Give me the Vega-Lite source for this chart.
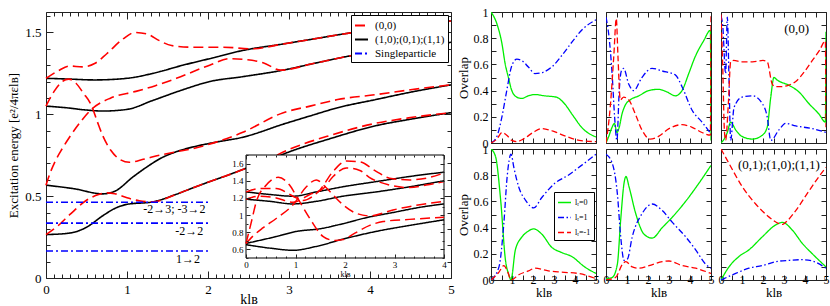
{
"$schema":"https://vega.github.io/schema/vega-lite/v6.json",
"padding":{"left":7,"top":5,"right":2,"bottom":2},
"background":"white",
"config":{
 "font":"Liberation Serif",
 "view":{"stroke":"#222","strokeWidth":1},
 "axis":{"grid":false,"domain":false,"labelFont":"Liberation Serif","titleFont":"Liberation Serif","labelColor":"black","titleColor":"black","titleFontWeight":"normal","tickColor":"#222","labelFlush":false,"labelOverlap":false},
 "legend":{"orient":"top-right","offset":3,"strokeColor":"black","fillColor":"white","padding":3,"labelFontSize":11,"labelFont":"Liberation Serif","labelColor":"black","symbolType":"stroke","symbolSize":169,"symbolStrokeWidth":2,"rowPadding":1,"labelOffset":6,"cornerRadius":0},
 "text":{"font":"Liberation Serif","color":"black"}
},
"datasets":{
 "mb":[
  {"id":"B1","k":0,"E":1.22},{"id":"B1","k":0.3,"E":1.215},{"id":"B1","k":0.6,"E":1.21},{"id":"B1","k":1.0,"E":1.22},{"id":"B1","k":1.32,"E":1.25},{"id":"B1","k":1.69,"E":1.3},{"id":"B1","k":2.02,"E":1.34},{"id":"B1","k":2.43,"E":1.39},{"id":"B1","k":2.93,"E":1.43},{"id":"B1","k":3.3,"E":1.46},{"id":"B1","k":3.79,"E":1.5},{"id":"B1","k":4.4,"E":1.54},{"id":"B1","k":5,"E":1.57},
  {"id":"B2","k":0,"E":1.05},{"id":"B2","k":0.25,"E":1.04},{"id":"B2","k":0.5,"E":1.026},{"id":"B2","k":0.7,"E":1.02},{"id":"B2","k":1.0,"E":1.03},{"id":"B2","k":1.32,"E":1.085},{"id":"B2","k":1.69,"E":1.15},{"id":"B2","k":2.02,"E":1.2},{"id":"B2","k":2.43,"E":1.23},{"id":"B2","k":2.93,"E":1.27},{"id":"B2","k":3.3,"E":1.31},{"id":"B2","k":3.79,"E":1.36},{"id":"B2","k":4.4,"E":1.4},{"id":"B2","k":5,"E":1.44},
  {"id":"B3","k":0,"E":0.567},{"id":"B3","k":0.35,"E":0.545},{"id":"B3","k":0.7,"E":0.514},{"id":"B3","k":0.85,"E":0.53},{"id":"B3","k":1.07,"E":0.616},{"id":"B3","k":1.25,"E":0.68},{"id":"B3","k":1.4,"E":0.727},{"id":"B3","k":1.6,"E":0.77},{"id":"B3","k":1.81,"E":0.8},{"id":"B3","k":2.1,"E":0.83},{"id":"B3","k":2.43,"E":0.86},{"id":"B3","k":2.93,"E":0.94},{"id":"B3","k":3.26,"E":0.99},{"id":"B3","k":3.6,"E":1.04},{"id":"B3","k":4.07,"E":1.09},{"id":"B3","k":4.5,"E":1.135},{"id":"B3","k":5,"E":1.18},
  {"id":"B4","k":0,"E":0.265},{"id":"B4","k":0.3,"E":0.275},{"id":"B4","k":0.5,"E":0.31},{"id":"B4","k":0.7,"E":0.38},{"id":"B4","k":0.85,"E":0.425},{"id":"B4","k":1.0,"E":0.45},{"id":"B4","k":1.32,"E":0.465},{"id":"B4","k":1.6,"E":0.51},{"id":"B4","k":1.81,"E":0.55},{"id":"B4","k":2.0,"E":0.585},{"id":"B4","k":2.2,"E":0.62},{"id":"B4","k":2.47,"E":0.67},{"id":"B4","k":2.7,"E":0.71},{"id":"B4","k":3.0,"E":0.77},{"id":"B4","k":3.5,"E":0.85},{"id":"B4","k":4.07,"E":0.93},{"id":"B4","k":4.5,"E":0.97},{"id":"B4","k":5,"E":1.01}
 ],
 "mr":[
  {"id":"R1","k":0,"E":1.22},{"id":"R1","k":0.15,"E":1.265},{"id":"R1","k":0.29,"E":1.295},{"id":"R1","k":0.45,"E":1.29},{"id":"R1","k":0.6,"E":1.31},{"id":"R1","k":0.75,"E":1.37},{"id":"R1","k":0.95,"E":1.46},{"id":"R1","k":1.1,"E":1.5},{"id":"R1","k":1.25,"E":1.49},{"id":"R1","k":1.4,"E":1.45},{"id":"R1","k":1.55,"E":1.42},{"id":"R1","k":1.8,"E":1.41},{"id":"R1","k":2.19,"E":1.41},{"id":"R1","k":2.54,"E":1.4},{"id":"R1","k":2.93,"E":1.43},{"id":"R1","k":3.3,"E":1.46},{"id":"R1","k":3.79,"E":1.5},{"id":"R1","k":4.4,"E":1.54},{"id":"R1","k":5,"E":1.57},
  {"id":"R2","k":0,"E":1.05},{"id":"R2","k":0.1,"E":1.14},{"id":"R2","k":0.2,"E":1.2},{"id":"R2","k":0.28,"E":1.215},{"id":"R2","k":0.37,"E":1.19},{"id":"R2","k":0.46,"E":1.13},{"id":"R2","k":0.56,"E":1.055},{"id":"R2","k":0.63,"E":0.96},{"id":"R2","k":0.7,"E":0.87},{"id":"R2","k":0.8,"E":0.78},{"id":"R2","k":0.91,"E":0.725},{"id":"R2","k":1.03,"E":0.707},{"id":"R2","k":1.2,"E":0.725},{"id":"R2","k":1.4,"E":0.75},{"id":"R2","k":1.6,"E":0.77},{"id":"R2","k":1.81,"E":0.79},{"id":"R2","k":2.1,"E":0.83},{"id":"R2","k":2.43,"E":0.89},{"id":"R2","k":2.93,"E":1.01},{"id":"R2","k":3.26,"E":1.05},{"id":"R2","k":3.6,"E":1.09},{"id":"R2","k":4.07,"E":1.12},{"id":"R2","k":4.5,"E":1.15},{"id":"R2","k":5,"E":1.18},
  {"id":"R3","k":0,"E":0.567},{"id":"R3","k":0.05,"E":0.64},{"id":"R3","k":0.12,"E":0.72},{"id":"R3","k":0.2,"E":0.79},{"id":"R3","k":0.29,"E":0.86},{"id":"R3","k":0.42,"E":0.95},{"id":"R3","k":0.56,"E":1.03},{"id":"R3","k":0.8,"E":1.1},{"id":"R3","k":1.11,"E":1.14},{"id":"R3","k":1.35,"E":1.175},{"id":"R3","k":1.61,"E":1.22},{"id":"R3","k":2.02,"E":1.3},{"id":"R3","k":2.27,"E":1.34},{"id":"R3","k":2.45,"E":1.335},{"id":"R3","k":2.68,"E":1.315},{"id":"R3","k":2.9,"E":1.27},{"id":"R3","k":3.3,"E":1.31},{"id":"R3","k":3.79,"E":1.36},{"id":"R3","k":4.4,"E":1.4},{"id":"R3","k":5,"E":1.44},
  {"id":"R4","k":0,"E":0.265},{"id":"R4","k":0.15,"E":0.32},{"id":"R4","k":0.3,"E":0.39},{"id":"R4","k":0.5,"E":0.475},{"id":"R4","k":0.65,"E":0.51},{"id":"R4","k":0.75,"E":0.52},{"id":"R4","k":0.85,"E":0.515},{"id":"R4","k":1.0,"E":0.49},{"id":"R4","k":1.15,"E":0.472},{"id":"R4","k":1.32,"E":0.465},{"id":"R4","k":1.6,"E":0.51},{"id":"R4","k":1.81,"E":0.55},{"id":"R4","k":2.0,"E":0.585},{"id":"R4","k":2.2,"E":0.62},{"id":"R4","k":2.47,"E":0.67},{"id":"R4","k":2.7,"E":0.715},{"id":"R4","k":3.0,"E":0.785},{"id":"R4","k":3.5,"E":0.87},{"id":"R4","k":4.07,"E":0.945},{"id":"R4","k":4.5,"E":0.98},{"id":"R4","k":5,"E":1.01}
 ],
 "ms":[
  {"id":"S1","k":0,"E":0.463},{"id":"S1","k":2,"E":0.463},
  {"id":"S2","k":0,"E":0.335},{"id":"S2","k":2,"E":0.335},
  {"id":"S3","k":0,"E":0.165},{"id":"S3","k":2,"E":0.165}
 ],
 "ib":[
  {"id":"I1","k":0,"E":1.27},{"id":"I1","k":0.48,"E":1.24},{"id":"I1","k":0.95,"E":1.22},{"id":"I1","k":1.42,"E":1.27},{"id":"I1","k":1.96,"E":1.33},{"id":"I1","k":2.63,"E":1.39},{"id":"I1","k":3.31,"E":1.45},{"id":"I1","k":4,"E":1.5},
  {"id":"I2","k":0,"E":1.185},{"id":"I2","k":0.48,"E":1.16},{"id":"I2","k":0.95,"E":1.13},{"id":"I2","k":1.42,"E":1.16},{"id":"I2","k":1.96,"E":1.22},{"id":"I2","k":2.63,"E":1.27},{"id":"I2","k":3.31,"E":1.33},{"id":"I2","k":4,"E":1.4},
  {"id":"I3","k":0,"E":0.67},{"id":"I3","k":0.61,"E":0.75},{"id":"I3","k":1.02,"E":0.81},{"id":"I3","k":1.49,"E":0.84},{"id":"I3","k":1.96,"E":0.9},{"id":"I3","k":2.43,"E":0.97},{"id":"I3","k":2.97,"E":1.03},{"id":"I3","k":3.51,"E":1.09},{"id":"I3","k":4,"E":1.13},
  {"id":"I4","k":0,"E":0.655},{"id":"I4","k":0.48,"E":0.615},{"id":"I4","k":0.95,"E":0.59},{"id":"I4","k":1.42,"E":0.635},{"id":"I4","k":1.96,"E":0.72},{"id":"I4","k":2.63,"E":0.81},{"id":"I4","k":3.31,"E":0.88},{"id":"I4","k":4,"E":0.945}
 ],
 "ir":[
  {"id":"J1","k":0,"E":0.67},{"id":"J1","k":0.1,"E":0.9},{"id":"J1","k":0.21,"E":1.16},{"id":"J1","k":0.41,"E":1.35},{"id":"J1","k":0.65,"E":1.44},{"id":"J1","k":0.88,"E":1.35},{"id":"J1","k":1.02,"E":1.22},{"id":"J1","k":1.29,"E":0.96},{"id":"J1","k":1.56,"E":0.75},{"id":"J1","k":1.79,"E":0.705},{"id":"J1","k":1.96,"E":0.715},{"id":"J1","k":2.2,"E":0.79},{"id":"J1","k":2.5,"E":0.88},{"id":"J1","k":2.77,"E":0.925},{"id":"J1","k":3.3,"E":0.95},{"id":"J1","k":4,"E":0.975},
  {"id":"J2","k":0,"E":0.67},{"id":"J2","k":0.15,"E":0.76},{"id":"J2","k":0.34,"E":0.85},{"id":"J2","k":0.61,"E":0.96},{"id":"J2","k":0.95,"E":1.12},{"id":"J2","k":1.22,"E":1.33},{"id":"J2","k":1.42,"E":1.41},{"id":"J2","k":1.6,"E":1.33},{"id":"J2","k":1.8,"E":1.21},{"id":"J2","k":1.96,"E":1.12},{"id":"J2","k":2.23,"E":1.02},{"id":"J2","k":2.5,"E":0.99},{"id":"J2","k":2.97,"E":1.06},{"id":"J2","k":3.51,"E":1.12},{"id":"J2","k":4,"E":1.16},
  {"id":"J3","k":0,"E":1.27},{"id":"J3","k":0.28,"E":1.31},{"id":"J3","k":0.61,"E":1.31},{"id":"J3","k":0.95,"E":1.22},{"id":"J3","k":1.15,"E":1.17},{"id":"J3","k":1.35,"E":1.22},{"id":"J3","k":1.49,"E":1.29},{"id":"J3","k":1.76,"E":1.51},{"id":"J3","k":2.03,"E":1.63},{"id":"J3","k":2.3,"E":1.62},{"id":"J3","k":2.63,"E":1.51},{"id":"J3","k":2.9,"E":1.43},{"id":"J3","k":3.31,"E":1.41},{"id":"J3","k":3.64,"E":1.43},{"id":"J3","k":4,"E":1.49},
  {"id":"J4","k":0,"E":1.185},{"id":"J4","k":0.28,"E":1.22},{"id":"J4","k":0.61,"E":1.2},{"id":"J4","k":0.95,"E":1.15},{"id":"J4","k":1.29,"E":1.24},{"id":"J4","k":1.56,"E":1.31},{"id":"J4","k":1.76,"E":1.45},{"id":"J4","k":2.03,"E":1.55},{"id":"J4","k":2.3,"E":1.52},{"id":"J4","k":2.49,"E":1.44},{"id":"J4","k":2.9,"E":1.35},{"id":"J4","k":3.31,"E":1.32},{"id":"J4","k":3.64,"E":1.35},{"id":"J4","k":4,"E":1.39}
 ],
 "ov":[
  {"p":"a","c":"0","k":0,"v":1},{"p":"a","c":"0","k":0.28,"v":0.91},{"p":"a","c":"0","k":0.52,"v":0.76},{"p":"a","c":"0","k":0.68,"v":0.6},{"p":"a","c":"0","k":0.83,"v":0.5},{"p":"a","c":"0","k":0.99,"v":0.4},{"p":"a","c":"0","k":1.23,"v":0.35},{"p":"a","c":"0","k":1.46,"v":0.34},{"p":"a","c":"0","k":1.78,"v":0.36},{"p":"a","c":"0","k":2.09,"v":0.37},{"p":"a","c":"0","k":2.56,"v":0.36},{"p":"a","c":"0","k":3.11,"v":0.35},{"p":"a","c":"0","k":3.5,"v":0.3},{"p":"a","c":"0","k":3.9,"v":0.21},{"p":"a","c":"0","k":4.37,"v":0.11},{"p":"a","c":"0","k":4.69,"v":0.07},{"p":"a","c":"0","k":5,"v":0.046},
  {"p":"a","c":"1","k":0,"v":0},{"p":"a","c":"1","k":0.28,"v":0.05},{"p":"a","c":"1","k":0.52,"v":0.2},{"p":"a","c":"1","k":0.75,"v":0.4},{"p":"a","c":"1","k":0.99,"v":0.59},{"p":"a","c":"1","k":1.23,"v":0.64},{"p":"a","c":"1","k":1.46,"v":0.63},{"p":"a","c":"1","k":1.78,"v":0.58},{"p":"a","c":"1","k":2.09,"v":0.53},{"p":"a","c":"1","k":2.48,"v":0.54},{"p":"a","c":"1","k":2.96,"v":0.59},{"p":"a","c":"1","k":3.43,"v":0.68},{"p":"a","c":"1","k":3.9,"v":0.78},{"p":"a","c":"1","k":4.37,"v":0.87},{"p":"a","c":"1","k":5,"v":0.94},
  {"p":"a","c":"-1","k":0,"v":0},{"p":"a","c":"-1","k":0.28,"v":0.03},{"p":"a","c":"-1","k":0.52,"v":0.08},{"p":"a","c":"-1","k":0.75,"v":0.06},{"p":"a","c":"-1","k":0.99,"v":0.02},{"p":"a","c":"-1","k":1.23,"v":0.01},{"p":"a","c":"-1","k":1.54,"v":0.03},{"p":"a","c":"-1","k":2.0,"v":0.08},{"p":"a","c":"-1","k":2.4,"v":0.11},{"p":"a","c":"-1","k":2.96,"v":0.09},{"p":"a","c":"-1","k":3.58,"v":0.05},{"p":"a","c":"-1","k":4.2,"v":0.02},{"p":"a","c":"-1","k":5,"v":0.01},
  {"p":"b","c":"0","k":0,"v":0},{"p":"b","c":"0","k":0.13,"v":0.05},{"p":"b","c":"0","k":0.29,"v":0.12},{"p":"b","c":"0","k":0.4,"v":0.15},{"p":"b","c":"0","k":0.52,"v":0.08},{"p":"b","c":"0","k":0.63,"v":0.12},{"p":"b","c":"0","k":0.76,"v":0.22},{"p":"b","c":"0","k":0.92,"v":0.29},{"p":"b","c":"0","k":1.16,"v":0.33},{"p":"b","c":"0","k":1.56,"v":0.36},{"p":"b","c":"0","k":2.03,"v":0.4},{"p":"b","c":"0","k":2.5,"v":0.41},{"p":"b","c":"0","k":2.9,"v":0.39},{"p":"b","c":"0","k":3.3,"v":0.36},{"p":"b","c":"0","k":3.62,"v":0.4},{"p":"b","c":"0","k":3.94,"v":0.53},{"p":"b","c":"0","k":4.25,"v":0.66},{"p":"b","c":"0","k":4.65,"v":0.78},{"p":"b","c":"0","k":4.97,"v":0.86},{"p":"b","c":"0","k":5,"v":0.02},
  {"p":"b","c":"1","k":0,"v":0.96},{"p":"b","c":"1","k":0.13,"v":0.83},{"p":"b","c":"1","k":0.29,"v":0.53},{"p":"b","c":"1","k":0.41,"v":0.2},{"p":"b","c":"1","k":0.52,"v":0.02},{"p":"b","c":"1","k":0.63,"v":0.4},{"p":"b","c":"1","k":0.73,"v":0.55},{"p":"b","c":"1","k":0.84,"v":0.57},{"p":"b","c":"1","k":1.08,"v":0.45},{"p":"b","c":"1","k":1.32,"v":0.4},{"p":"b","c":"1","k":1.71,"v":0.5},{"p":"b","c":"1","k":2.19,"v":0.57},{"p":"b","c":"1","k":2.67,"v":0.55},{"p":"b","c":"1","k":3.3,"v":0.52},{"p":"b","c":"1","k":3.62,"v":0.43},{"p":"b","c":"1","k":4.1,"v":0.25},{"p":"b","c":"1","k":4.57,"v":0.16},{"p":"b","c":"1","k":5,"v":0.07},
  {"p":"b","c":"-1","k":0,"v":0},{"p":"b","c":"-1","k":0.2,"v":0.27},{"p":"b","c":"-1","k":0.37,"v":0.66},{"p":"b","c":"-1","k":0.49,"v":0.95},{"p":"b","c":"-1","k":0.57,"v":0.66},{"p":"b","c":"-1","k":0.68,"v":0.33},{"p":"b","c":"-1","k":0.84,"v":0.35},{"p":"b","c":"-1","k":1.08,"v":0.33},{"p":"b","c":"-1","k":1.4,"v":0.22},{"p":"b","c":"-1","k":1.71,"v":0.1},{"p":"b","c":"-1","k":2.1,"v":0.03},{"p":"b","c":"-1","k":2.5,"v":0.05},{"p":"b","c":"-1","k":3.0,"v":0.11},{"p":"b","c":"-1","k":3.62,"v":0.14},{"p":"b","c":"-1","k":4.1,"v":0.12},{"p":"b","c":"-1","k":4.57,"v":0.08},{"p":"b","c":"-1","k":4.97,"v":0.06},{"p":"b","c":"-1","k":5,"v":0.97},
  {"p":"c","c":"0","k":0,"v":0},{"p":"c","c":"0","k":0.15,"v":0.03},{"p":"c","c":"0","k":0.3,"v":0.08},{"p":"c","c":"0","k":0.46,"v":0.16},{"p":"c","c":"0","k":0.7,"v":0.1},{"p":"c","c":"0","k":1.0,"v":0.05},{"p":"c","c":"0","k":1.5,"v":0.03},{"p":"c","c":"0","k":1.97,"v":0.06},{"p":"c","c":"0","k":2.2,"v":0.12},{"p":"c","c":"0","k":2.37,"v":0.35},{"p":"c","c":"0","k":2.52,"v":0.5},{"p":"c","c":"0","k":2.68,"v":0.48},{"p":"c","c":"0","k":3.24,"v":0.44},{"p":"c","c":"0","k":3.71,"v":0.39},{"p":"c","c":"0","k":4.19,"v":0.3},{"p":"c","c":"0","k":4.67,"v":0.22},{"p":"c","c":"0","k":4.97,"v":0.16},{"p":"c","c":"0","k":5,"v":0.85},
  {"p":"c","c":"1","k":0,"v":0.97},{"p":"c","c":"1","k":0.08,"v":0.9},{"p":"c","c":"1","k":0.22,"v":0.53},{"p":"c","c":"1","k":0.3,"v":0.96},{"p":"c","c":"1","k":0.38,"v":0.5},{"p":"c","c":"1","k":0.46,"v":0.02},{"p":"c","c":"1","k":0.62,"v":0.27},{"p":"c","c":"1","k":1.0,"v":0.35},{"p":"c","c":"1","k":1.5,"v":0.36},{"p":"c","c":"1","k":1.97,"v":0.3},{"p":"c","c":"1","k":2.2,"v":0.2},{"p":"c","c":"1","k":2.37,"v":0.02},{"p":"c","c":"1","k":2.76,"v":0.1},{"p":"c","c":"1","k":3.08,"v":0.15},{"p":"c","c":"1","k":3.56,"v":0.13},{"p":"c","c":"1","k":4.35,"v":0.11},{"p":"c","c":"1","k":5,"v":0.08},
  {"p":"c","c":"-1","k":0,"v":0.98},{"p":"c","c":"-1","k":0.08,"v":0.6},{"p":"c","c":"-1","k":0.16,"v":0.1},{"p":"c","c":"-1","k":0.22,"v":0.02},{"p":"c","c":"-1","k":0.35,"v":0.3},{"p":"c","c":"-1","k":0.46,"v":0.62},{"p":"c","c":"-1","k":0.6,"v":0.63},{"p":"c","c":"-1","k":1.0,"v":0.62},{"p":"c","c":"-1","k":1.5,"v":0.62},{"p":"c","c":"-1","k":2.0,"v":0.63},{"p":"c","c":"-1","k":2.2,"v":0.62},{"p":"c","c":"-1","k":2.44,"v":0.45},{"p":"c","c":"-1","k":2.6,"v":0.43},{"p":"c","c":"-1","k":2.84,"v":0.43},{"p":"c","c":"-1","k":3.2,"v":0.44},{"p":"c","c":"-1","k":3.56,"v":0.47},{"p":"c","c":"-1","k":4.0,"v":0.55},{"p":"c","c":"-1","k":4.35,"v":0.63},{"p":"c","c":"-1","k":4.7,"v":0.71},{"p":"c","c":"-1","k":4.97,"v":0.78},{"p":"c","c":"-1","k":5,"v":0.12},
  {"p":"d","c":"0","k":0,"v":1},{"p":"d","c":"0","k":0.22,"v":0.94},{"p":"d","c":"0","k":0.46,"v":0.61},{"p":"d","c":"0","k":0.69,"v":0.15},{"p":"d","c":"0","k":0.85,"v":0.04},{"p":"d","c":"0","k":0.95,"v":0},{"p":"d","c":"0","k":1.16,"v":0.23},{"p":"d","c":"0","k":1.48,"v":0.33},{"p":"d","c":"0","k":1.75,"v":0.37},{"p":"d","c":"0","k":2.03,"v":0.39},{"p":"d","c":"0","k":2.42,"v":0.35},{"p":"d","c":"0","k":2.89,"v":0.25},{"p":"d","c":"0","k":3.36,"v":0.21},{"p":"d","c":"0","k":3.84,"v":0.18},{"p":"d","c":"0","k":4.46,"v":0.1},{"p":"d","c":"0","k":5,"v":0.05},
  {"p":"d","c":"1","k":0,"v":0},{"p":"d","c":"1","k":0.38,"v":0.1},{"p":"d","c":"1","k":0.61,"v":0.43},{"p":"d","c":"1","k":0.77,"v":0.79},{"p":"d","c":"1","k":0.95,"v":0.96},{"p":"d","c":"1","k":1.1,"v":0.85},{"p":"d","c":"1","k":1.32,"v":0.71},{"p":"d","c":"1","k":1.64,"v":0.61},{"p":"d","c":"1","k":2.03,"v":0.55},{"p":"d","c":"1","k":2.42,"v":0.63},{"p":"d","c":"1","k":3.05,"v":0.74},{"p":"d","c":"1","k":3.68,"v":0.8},{"p":"d","c":"1","k":4.31,"v":0.875},{"p":"d","c":"1","k":5,"v":0.96},
  {"p":"d","c":"-1","k":0,"v":0},{"p":"d","c":"-1","k":0.38,"v":0.06},{"p":"d","c":"-1","k":0.61,"v":0.11},{"p":"d","c":"-1","k":0.8,"v":0.06},{"p":"d","c":"-1","k":0.95,"v":0},{"p":"d","c":"-1","k":1.32,"v":0.04},{"p":"d","c":"-1","k":1.79,"v":0.07},{"p":"d","c":"-1","k":2.1,"v":0.09},{"p":"d","c":"-1","k":2.73,"v":0.07},{"p":"d","c":"-1","k":3.36,"v":0.06},{"p":"d","c":"-1","k":4.15,"v":0.05},{"p":"d","c":"-1","k":5,"v":0.01},
  {"p":"e","c":"0","k":0,"v":0.01},{"p":"e","c":"0","k":0.3,"v":0.02},{"p":"e","c":"0","k":0.54,"v":0.12},{"p":"e","c":"0","k":0.7,"v":0.46},{"p":"e","c":"0","k":0.86,"v":0.74},{"p":"e","c":"0","k":0.95,"v":0.79},{"p":"e","c":"0","k":1.1,"v":0.71},{"p":"e","c":"0","k":1.41,"v":0.51},{"p":"e","c":"0","k":1.81,"v":0.35},{"p":"e","c":"0","k":2.2,"v":0.32},{"p":"e","c":"0","k":2.68,"v":0.4},{"p":"e","c":"0","k":3.16,"v":0.48},{"p":"e","c":"0","k":3.79,"v":0.6},{"p":"e","c":"0","k":4.43,"v":0.74},{"p":"e","c":"0","k":5,"v":0.875},
  {"p":"e","c":"1","k":0,"v":0.96},{"p":"e","c":"1","k":0.3,"v":0.89},{"p":"e","c":"1","k":0.54,"v":0.66},{"p":"e","c":"1","k":0.7,"v":0.33},{"p":"e","c":"1","k":0.86,"v":0.15},{"p":"e","c":"1","k":1.02,"v":0.16},{"p":"e","c":"1","k":1.25,"v":0.33},{"p":"e","c":"1","k":1.73,"v":0.51},{"p":"e","c":"1","k":2.2,"v":0.58},{"p":"e","c":"1","k":2.68,"v":0.53},{"p":"e","c":"1","k":3.16,"v":0.44},{"p":"e","c":"1","k":3.79,"v":0.33},{"p":"e","c":"1","k":4.27,"v":0.23},{"p":"e","c":"1","k":4.75,"v":0.12},{"p":"e","c":"1","k":5,"v":0.09},
  {"p":"e","c":"-1","k":0,"v":0},{"p":"e","c":"-1","k":0.46,"v":0.02},{"p":"e","c":"-1","k":0.78,"v":0.12},{"p":"e","c":"-1","k":0.94,"v":0.14},{"p":"e","c":"-1","k":1.25,"v":0.1},{"p":"e","c":"-1","k":1.57,"v":0.09},{"p":"e","c":"-1","k":2.05,"v":0.11},{"p":"e","c":"-1","k":2.68,"v":0.14},{"p":"e","c":"-1","k":3.0,"v":0.145},{"p":"e","c":"-1","k":3.63,"v":0.11},{"p":"e","c":"-1","k":4.27,"v":0.09},{"p":"e","c":"-1","k":5,"v":0.05},
  {"p":"f","c":"0","k":0,"v":0},{"p":"f","c":"0","k":0.38,"v":0.1},{"p":"f","c":"0","k":0.86,"v":0.18},{"p":"f","c":"0","k":1.33,"v":0.23},{"p":"f","c":"0","k":1.97,"v":0.33},{"p":"f","c":"0","k":2.6,"v":0.42},{"p":"f","c":"0","k":2.92,"v":0.44},{"p":"f","c":"0","k":3.4,"v":0.38},{"p":"f","c":"0","k":3.87,"v":0.28},{"p":"f","c":"0","k":4.35,"v":0.2},{"p":"f","c":"0","k":5,"v":0.1},
  {"p":"f","c":"1","k":0,"v":0},{"p":"f","c":"1","k":0.7,"v":0.05},{"p":"f","c":"1","k":1.33,"v":0.09},{"p":"f","c":"1","k":1.97,"v":0.11},{"p":"f","c":"1","k":2.6,"v":0.14},{"p":"f","c":"1","k":3.24,"v":0.15},{"p":"f","c":"1","k":3.87,"v":0.155},{"p":"f","c":"1","k":4.35,"v":0.145},{"p":"f","c":"1","k":5,"v":0.09},
  {"p":"f","c":"-1","k":0,"v":1},{"p":"f","c":"-1","k":0.38,"v":0.89},{"p":"f","c":"-1","k":1.02,"v":0.71},{"p":"f","c":"-1","k":1.65,"v":0.58},{"p":"f","c":"-1","k":2.29,"v":0.48},{"p":"f","c":"-1","k":2.76,"v":0.43},{"p":"f","c":"-1","k":2.95,"v":0.425},{"p":"f","c":"-1","k":3.08,"v":0.44},{"p":"f","c":"-1","k":3.56,"v":0.53},{"p":"f","c":"-1","k":4.19,"v":0.68},{"p":"f","c":"-1","k":4.67,"v":0.79},{"p":"f","c":"-1","k":5,"v":0.86}
 ]
},
"spacing":1,
"resolve":{"scale":{"color":"independent","strokeDash":"independent"},"legend":{"color":"independent","strokeDash":"independent"}},
"hconcat":[
 {
  "width":405,"height":266,
  "resolve":{"scale":{"x":"independent","y":"independent"}},
  "layer":[
   {"layer":[
    {"data":{"name":"mb"},"mark":{"type":"line","strokeWidth":1.6,"interpolate":"monotone"},
     "encoding":{
      "x":{"field":"k","type":"quantitative","scale":{"domain":[0,5],"nice":false},
        "axis":{"orient":"bottom","values":[0,0.1,0.2,0.3,0.4,0.5,0.6,0.7,0.8,0.9,1,1.1,1.2,1.3,1.4,1.5,1.6,1.7,1.8,1.9,2,2.1,2.2,2.3,2.4,2.5,2.6,2.7,2.8,2.9,3,3.1,3.2,3.3,3.4,3.5,3.6,3.7,3.8,3.9,4,4.1,4.2,4.3,4.4,4.5,4.6,4.7,4.8,4.9,5],"labelExpr":"abs(datum.value-round(datum.value))<0.001 ? format(datum.value,'d') : ''","tickSize":{"condition":{"test":"abs(datum.value-round(datum.value))<0.001","value":-7},"value":-4},"labelPadding":12,"labelFontSize":13,"title":"klʙ","titleFontSize":14,"titlePadding":-7}},
      "y":{"field":"E","type":"quantitative","scale":{"domain":[0,1.625],"nice":false},
        "axis":{"orient":"left","values":[0,0.1,0.2,0.3,0.4,0.5,0.6,0.7,0.8,0.9,1,1.1,1.2,1.3,1.4,1.5,1.6],"labelExpr":"abs(datum.value*2-round(datum.value*2))<0.001 ? format(datum.value,'~g') : ''","tickSize":{"condition":{"test":"abs(datum.value*2-round(datum.value*2))<0.001","value":-7},"value":-4},"labelPadding":12,"labelFontSize":13,"title":"Excitation energy [e²/4πεlʙ]","titleFontSize":13,"titlePadding":4}},
      "color":{"datum":"(1,0);(0,1);(1,1)","type":"nominal","title":null,"scale":{"domain":["(0,0)","(1,0);(0,1);(1,1)","Singleparticle"],"range":["#ff0000","#000000","#0000ff"]}},
      "strokeDash":{"datum":"(1,0);(0,1);(1,1)","type":"nominal","title":null,"scale":{"domain":["(0,0)","(1,0);(0,1);(1,1)","Singleparticle"],"range":[[10,5],[1,0],[7,3,2,3]]}},
      "detail":{"field":"id"}
     }},
    {"data":{"name":"mr"},"mark":{"type":"line","strokeWidth":1.6,"interpolate":"monotone"},
     "encoding":{
      "x":{"field":"k","type":"quantitative",
        "axis":{"orient":"top","values":[0,0.1,0.2,0.3,0.4,0.5,0.6,0.7,0.8,0.9,1,1.1,1.2,1.3,1.4,1.5,1.6,1.7,1.8,1.9,2,2.1,2.2,2.3,2.4,2.5,2.6,2.7,2.8,2.9,3,3.1,3.2,3.3,3.4,3.5,3.6,3.7,3.8,3.9,4,4.1,4.2,4.3,4.4,4.5,4.6,4.7,4.8,4.9,5],"labels":false,"title":null,"tickSize":{"condition":{"test":"abs(datum.value-round(datum.value))<0.001","value":-7},"value":-4}}},
      "y":{"field":"E","type":"quantitative",
        "axis":{"orient":"right","values":[0,0.1,0.2,0.3,0.4,0.5,0.6,0.7,0.8,0.9,1,1.1,1.2,1.3,1.4,1.5,1.6],"labels":false,"title":null,"tickSize":{"condition":{"test":"abs(datum.value*2-round(datum.value*2))<0.001","value":-7},"value":-4}}},
      "color":{"datum":"(0,0)","type":"nominal","title":null,"scale":{"domain":["(0,0)","(1,0);(0,1);(1,1)","Singleparticle"],"range":["#ff0000","#000000","#0000ff"]}},
      "strokeDash":{"datum":"(0,0)","type":"nominal","title":null,"scale":{"domain":["(0,0)","(1,0);(0,1);(1,1)","Singleparticle"],"range":[[10,5],[1,0],[7,3,2,3]]}},
      "detail":{"field":"id"}
     }},
    {"data":{"name":"ms"},"mark":{"type":"line","strokeWidth":1.6},
     "encoding":{
      "x":{"field":"k","type":"quantitative","axis":null},
      "y":{"field":"E","type":"quantitative","axis":null},
      "color":{"datum":"Singleparticle","type":"nominal","title":null,"scale":{"domain":["(0,0)","(1,0);(0,1);(1,1)","Singleparticle"],"range":["#ff0000","#000000","#0000ff"]}},
      "strokeDash":{"datum":"Singleparticle","type":"nominal","title":null,"scale":{"domain":["(0,0)","(1,0);(0,1);(1,1)","Singleparticle"],"range":[[10,5],[1,0],[7,3,2,3]]}},
      "detail":{"field":"id"}
     }},
    {"data":{"values":[{"k":1.97,"E":0.42,"t":"-2→3; -3→2"},{"k":1.94,"E":0.29,"t":"-2→2"},{"k":1.9,"E":0.115,"t":"1→2"}]},
     "mark":{"type":"text","align":"right","baseline":"middle","fontSize":12},
     "encoding":{"x":{"field":"k","type":"quantitative","axis":null},"y":{"field":"E","type":"quantitative","axis":null},"text":{"field":"t"}}}
   ]},
   {"layer":[
    {"data":{"values":[{"x0":0,"x1":4,"y0":0.5,"y1":1.7}]},"mark":{"type":"rect","fill":"white","stroke":"black","strokeWidth":1},
     "encoding":{
      "x":{"field":"x0","type":"quantitative","scale":{"domain":[0,4],"range":[200,398],"nice":false},
        "axis":{"orient":"bottom","offset":-20,"zindex":1,"values":[0,0.2,0.4,0.6,0.8,1,1.2,1.4,1.6,1.8,2,2.2,2.4,2.6,2.8,3,3.2,3.4,3.6,3.8,4],"labelExpr":"abs(datum.value-round(datum.value))<0.001 ? format(datum.value,'d') : ''","tickSize":{"condition":{"test":"abs(datum.value-round(datum.value))<0.001","value":-4},"value":-2},"labelPadding":6,"labelFontSize":9,"title":"klʙ","titleFontSize":8,"titlePadding":-1}},
      "x2":{"field":"x1"},
      "y":{"field":"y0","type":"quantitative","scale":{"domain":[0.5,1.7],"range":[246,143],"nice":false},
        "axis":{"orient":"left","offset":-200,"zindex":1,"values":[0.5,0.6,0.7,0.8,0.9,1,1.1,1.2,1.3,1.4,1.5,1.6,1.7],"labelExpr":"abs(datum.value*5-round(datum.value*5))<0.001 ? format(datum.value,'~g') : ''","tickSize":{"condition":{"test":"abs(datum.value*5-round(datum.value*5))<0.001","value":-4},"value":-2},"labelPadding":7,"labelFontSize":9,"title":null}},
      "y2":{"field":"y1"}
     }},
    {"data":{"name":"ib"},"mark":{"type":"line","strokeWidth":1.5,"interpolate":"monotone"},
     "encoding":{
      "x":{"field":"k","type":"quantitative",
        "axis":{"orient":"top","offset":-143,"zindex":1,"values":[0,0.2,0.4,0.6,0.8,1,1.2,1.4,1.6,1.8,2,2.2,2.4,2.6,2.8,3,3.2,3.4,3.6,3.8,4],"labels":false,"title":null,"tickSize":{"condition":{"test":"abs(datum.value-round(datum.value))<0.001","value":-4},"value":-2}}},
      "y":{"field":"E","type":"quantitative",
        "axis":{"orient":"right","offset":-7,"zindex":1,"values":[0.5,0.6,0.7,0.8,0.9,1,1.1,1.2,1.3,1.4,1.5,1.6,1.7],"labels":false,"title":null,"tickSize":{"condition":{"test":"abs(datum.value*5-round(datum.value*5))<0.001","value":-4},"value":-2}}},
      "color":{"datum":"(1,0);(0,1);(1,1)","type":"nominal","title":null,"scale":{"domain":["(0,0)","(1,0);(0,1);(1,1)","Singleparticle"],"range":["#ff0000","#000000","#0000ff"]}},
      "strokeDash":{"datum":"(1,0);(0,1);(1,1)","type":"nominal","title":null,"scale":{"domain":["(0,0)","(1,0);(0,1);(1,1)","Singleparticle"],"range":[[10,5],[1,0],[7,3,2,3]]}},
      "detail":{"field":"id"}
     }},
    {"data":{"name":"ir"},"mark":{"type":"line","strokeWidth":1.5,"interpolate":"monotone"},
     "encoding":{
      "x":{"field":"k","type":"quantitative","axis":null},
      "y":{"field":"E","type":"quantitative","axis":null},
      "color":{"datum":"(0,0)","type":"nominal","title":null,"scale":{"domain":["(0,0)","(1,0);(0,1);(1,1)","Singleparticle"],"range":["#ff0000","#000000","#0000ff"]}},
      "strokeDash":{"datum":"(0,0)","type":"nominal","title":null,"scale":{"domain":["(0,0)","(1,0);(0,1);(1,1)","Singleparticle"],"range":[[10,5],[1,0],[7,3,2,3]]}},
      "detail":{"field":"id"}
     }}
   ]}
  ]
 },
 {
  "columns":3,
  "spacing":{"row":6,"column":10},
  "bounds":"flush",
  "resolve":{"scale":{"color":"independent","strokeDash":"independent"},"legend":{"color":"independent","strokeDash":"independent"}},
  "concat":[
   {"width":105,"height":131,"layer":[
    {"data":{"name":"ov"},"transform":[{"filter":"datum.p=='a'"}],"mark":{"type":"line","strokeWidth":1.3,"interpolate":"monotone","clip":true},
     "encoding":{
      "x":{"field":"k","type":"quantitative","scale":{"domain":[0,5],"nice":false},"axis":{"orient":"bottom","values":[0,0.5,1,1.5,2,2.5,3,3.5,4,4.5,5],"labels":false,"title":null,"tickSize":-5}},
      "y":{"field":"v","type":"quantitative","scale":{"domain":[0,1],"nice":false},"axis":{"orient":"left","values":[0,0.1,0.2,0.3,0.4,0.5,0.6,0.7,0.8,0.9,1],"labelExpr":"abs(datum.value*5-round(datum.value*5))<0.001 ? format(datum.value,'~g') : ''","tickSize":-5,"labelPadding":8,"labelFontSize":12,"title":"Overlap","titleFontSize":13,"titlePadding":3}},
      "color":{"field":"c","type":"nominal","scale":{"domain":["0","1","-1"],"range":["#00ee00","#0000ff","#ff0000"]},"legend":null},
      "strokeDash":{"field":"c","type":"nominal","scale":{"domain":["0","1","-1"],"range":[[1,0],[6,2.5,1.5,2.5],[6,3]]},"legend":null}
     }},
    {"data":{"name":"ov"},"transform":[{"filter":"datum.p=='a'"}],"mark":{"type":"point","opacity":0},
     "encoding":{"x":{"field":"k","type":"quantitative","axis":{"orient":"top","values":[0,0.5,1,1.5,2,2.5,3,3.5,4,4.5,5],"labels":false,"title":null,"tickSize":-5}},"y":{"field":"v","type":"quantitative","axis":{"orient":"right","values":[0,0.1,0.2,0.3,0.4,0.5,0.6,0.7,0.8,0.9,1],"labels":false,"title":null,"tickSize":-5}}}}
   ]},
   {"width":105,"height":131,"layer":[
    {"data":{"name":"ov"},"transform":[{"filter":"datum.p=='b'"}],"mark":{"type":"line","strokeWidth":1.3,"interpolate":"monotone","clip":true},
     "encoding":{
      "x":{"field":"k","type":"quantitative","scale":{"domain":[0,5],"nice":false},"axis":{"orient":"bottom","values":[0,0.5,1,1.5,2,2.5,3,3.5,4,4.5,5],"labels":false,"title":null,"tickSize":-5}},
      "y":{"field":"v","type":"quantitative","scale":{"domain":[0,1],"nice":false},"axis":{"orient":"left","values":[0,0.1,0.2,0.3,0.4,0.5,0.6,0.7,0.8,0.9,1],"labels":false,"title":null,"tickSize":-5}},
      "color":{"field":"c","type":"nominal","scale":{"domain":["0","1","-1"],"range":["#00ee00","#0000ff","#ff0000"]},"legend":null},
      "strokeDash":{"field":"c","type":"nominal","scale":{"domain":["0","1","-1"],"range":[[1,0],[6,2.5,1.5,2.5],[6,3]]},"legend":null}
     }},
    {"data":{"name":"ov"},"transform":[{"filter":"datum.p=='b'"}],"mark":{"type":"point","opacity":0},
     "encoding":{"x":{"field":"k","type":"quantitative","axis":{"orient":"top","values":[0,0.5,1,1.5,2,2.5,3,3.5,4,4.5,5],"labels":false,"title":null,"tickSize":-5}},"y":{"field":"v","type":"quantitative","axis":{"orient":"right","values":[0,0.1,0.2,0.3,0.4,0.5,0.6,0.7,0.8,0.9,1],"labels":false,"title":null,"tickSize":-5}}}}
   ]},
   {"width":105,"height":131,"layer":[
    {"data":{"name":"ov"},"transform":[{"filter":"datum.p=='c'"}],"mark":{"type":"line","strokeWidth":1.3,"interpolate":"monotone","clip":true},
     "encoding":{
      "x":{"field":"k","type":"quantitative","scale":{"domain":[0,5],"nice":false},"axis":{"orient":"bottom","values":[0,0.5,1,1.5,2,2.5,3,3.5,4,4.5,5],"labels":false,"title":null,"tickSize":-5}},
      "y":{"field":"v","type":"quantitative","scale":{"domain":[0,1],"nice":false},"axis":{"orient":"left","values":[0,0.1,0.2,0.3,0.4,0.5,0.6,0.7,0.8,0.9,1],"labels":false,"title":null,"tickSize":-5}},
      "color":{"field":"c","type":"nominal","scale":{"domain":["0","1","-1"],"range":["#00ee00","#0000ff","#ff0000"]},"legend":null},
      "strokeDash":{"field":"c","type":"nominal","scale":{"domain":["0","1","-1"],"range":[[1,0],[6,2.5,1.5,2.5],[6,3]]},"legend":null}
     }},
    {"data":{"name":"ov"},"transform":[{"filter":"datum.p=='c'"}],"mark":{"type":"point","opacity":0},
     "encoding":{"x":{"field":"k","type":"quantitative","axis":{"orient":"top","values":[0,0.5,1,1.5,2,2.5,3,3.5,4,4.5,5],"labels":false,"title":null,"tickSize":-5}},"y":{"field":"v","type":"quantitative","axis":{"orient":"right","values":[0,0.1,0.2,0.3,0.4,0.5,0.6,0.7,0.8,0.9,1],"labels":false,"title":null,"tickSize":-5}}}},
    {"data":{"values":[{"k":3.6,"v":0.87,"t":"(0,0)"}]},"mark":{"type":"text","fontSize":13,"baseline":"middle"},
     "encoding":{"x":{"field":"k","type":"quantitative","axis":null},"y":{"field":"v","type":"quantitative","axis":null},"text":{"field":"t"}}}
   ]},
   {"width":105,"height":131,"layer":[
    {"data":{"name":"ov"},"transform":[{"filter":"datum.p=='d'"}],"mark":{"type":"line","strokeWidth":1.3,"interpolate":"monotone","clip":true},
     "encoding":{
      "x":{"field":"k","type":"quantitative","scale":{"domain":[0,5],"nice":false},"axis":{"orient":"bottom","values":[0,0.5,1,1.5,2,2.5,3,3.5,4,4.5,5],"labelExpr":"abs(datum.value-round(datum.value))<0.001 ? format(datum.value,'d') : ''","tickSize":-5,"labelPadding":-1,"labelFontSize":12,"title":"klʙ","titleFontSize":13,"titlePadding":1}},
      "y":{"field":"v","type":"quantitative","scale":{"domain":[0,1],"nice":false},"axis":{"orient":"left","values":[0,0.1,0.2,0.3,0.4,0.5,0.6,0.7,0.8,0.9,1],"labelExpr":"abs(datum.value*5-round(datum.value*5))<0.001 ? format(datum.value,'~g') : ''","tickSize":-5,"labelPadding":8,"labelFontSize":12,"title":"Overlap","titleFontSize":13,"titlePadding":3}},
      "color":{"field":"c","type":"nominal","scale":{"domain":["0","1","-1"],"range":["#00ee00","#0000ff","#ff0000"]},"legend":{"orient":"none","legendX":63,"legendY":43,"title":null,"labelExpr":"'lᵣ=' + datum.label","padding":3,"labelFontSize":8,"symbolSize":169,"symbolStrokeWidth":1.5,"rowPadding":3,"labelOffset":3,"strokeColor":"black","fillColor":"white","offset":0}},
      "strokeDash":{"field":"c","type":"nominal","scale":{"domain":["0","1","-1"],"range":[[1,0],[6,2.5,1.5,2.5],[6,3]]},"legend":{"orient":"none","legendX":63,"legendY":43,"title":null,"labelExpr":"'lᵣ=' + datum.label","padding":3,"labelFontSize":8,"symbolSize":169,"symbolStrokeWidth":1.5,"rowPadding":3,"labelOffset":3,"strokeColor":"black","fillColor":"white","offset":0}}
     }},
    {"data":{"name":"ov"},"transform":[{"filter":"datum.p=='d'"}],"mark":{"type":"point","opacity":0},
     "encoding":{"x":{"field":"k","type":"quantitative","axis":{"orient":"top","values":[0,0.5,1,1.5,2,2.5,3,3.5,4,4.5,5],"labels":false,"title":null,"tickSize":-5}},"y":{"field":"v","type":"quantitative","axis":{"orient":"right","values":[0,0.1,0.2,0.3,0.4,0.5,0.6,0.7,0.8,0.9,1],"labels":false,"title":null,"tickSize":-5}}}}
   ]},
   {"width":105,"height":131,"layer":[
    {"data":{"name":"ov"},"transform":[{"filter":"datum.p=='e'"}],"mark":{"type":"line","strokeWidth":1.3,"interpolate":"monotone","clip":true},
     "encoding":{
      "x":{"field":"k","type":"quantitative","scale":{"domain":[0,5],"nice":false},"axis":{"orient":"bottom","values":[0,0.5,1,1.5,2,2.5,3,3.5,4,4.5,5],"labelExpr":"abs(datum.value-round(datum.value))<0.001 ? format(datum.value,'d') : ''","tickSize":-5,"labelPadding":-1,"labelFontSize":12,"title":"klʙ","titleFontSize":13,"titlePadding":1}},
      "y":{"field":"v","type":"quantitative","scale":{"domain":[0,1],"nice":false},"axis":{"orient":"left","values":[0,0.1,0.2,0.3,0.4,0.5,0.6,0.7,0.8,0.9,1],"labels":false,"title":null,"tickSize":-5}},
      "color":{"field":"c","type":"nominal","scale":{"domain":["0","1","-1"],"range":["#00ee00","#0000ff","#ff0000"]},"legend":null},
      "strokeDash":{"field":"c","type":"nominal","scale":{"domain":["0","1","-1"],"range":[[1,0],[6,2.5,1.5,2.5],[6,3]]},"legend":null}
     }},
    {"data":{"name":"ov"},"transform":[{"filter":"datum.p=='e'"}],"mark":{"type":"point","opacity":0},
     "encoding":{"x":{"field":"k","type":"quantitative","axis":{"orient":"top","values":[0,0.5,1,1.5,2,2.5,3,3.5,4,4.5,5],"labels":false,"title":null,"tickSize":-5}},"y":{"field":"v","type":"quantitative","axis":{"orient":"right","values":[0,0.1,0.2,0.3,0.4,0.5,0.6,0.7,0.8,0.9,1],"labels":false,"title":null,"tickSize":-5}}}}
   ]},
   {"width":105,"height":131,"layer":[
    {"data":{"name":"ov"},"transform":[{"filter":"datum.p=='f'"}],"mark":{"type":"line","strokeWidth":1.3,"interpolate":"monotone","clip":true},
     "encoding":{
      "x":{"field":"k","type":"quantitative","scale":{"domain":[0,5],"nice":false},"axis":{"orient":"bottom","values":[0,0.5,1,1.5,2,2.5,3,3.5,4,4.5,5],"labelExpr":"abs(datum.value-round(datum.value))<0.001 ? format(datum.value,'d') : ''","tickSize":-5,"labelPadding":-1,"labelFontSize":12,"title":"klʙ","titleFontSize":13,"titlePadding":1}},
      "y":{"field":"v","type":"quantitative","scale":{"domain":[0,1],"nice":false},"axis":{"orient":"left","values":[0,0.1,0.2,0.3,0.4,0.5,0.6,0.7,0.8,0.9,1],"labels":false,"title":null,"tickSize":-5}},
      "color":{"field":"c","type":"nominal","scale":{"domain":["0","1","-1"],"range":["#00ee00","#0000ff","#ff0000"]},"legend":null},
      "strokeDash":{"field":"c","type":"nominal","scale":{"domain":["0","1","-1"],"range":[[1,0],[6,2.5,1.5,2.5],[6,3]]},"legend":null}
     }},
    {"data":{"name":"ov"},"transform":[{"filter":"datum.p=='f'"}],"mark":{"type":"point","opacity":0},
     "encoding":{"x":{"field":"k","type":"quantitative","axis":{"orient":"top","values":[0,0.5,1,1.5,2,2.5,3,3.5,4,4.5,5],"labels":false,"title":null,"tickSize":-5}},"y":{"field":"v","type":"quantitative","axis":{"orient":"right","values":[0,0.1,0.2,0.3,0.4,0.5,0.6,0.7,0.8,0.9,1],"labels":false,"title":null,"tickSize":-5}}}},
    {"data":{"values":[{"k":2.76,"v":0.88,"t":"(0,1);(1,0);(1,1)"}]},"mark":{"type":"text","fontSize":13,"baseline":"middle"},
     "encoding":{"x":{"field":"k","type":"quantitative","axis":null},"y":{"field":"v","type":"quantitative","axis":null},"text":{"field":"t"}}}
   ]}
  ]
 }
]
}
